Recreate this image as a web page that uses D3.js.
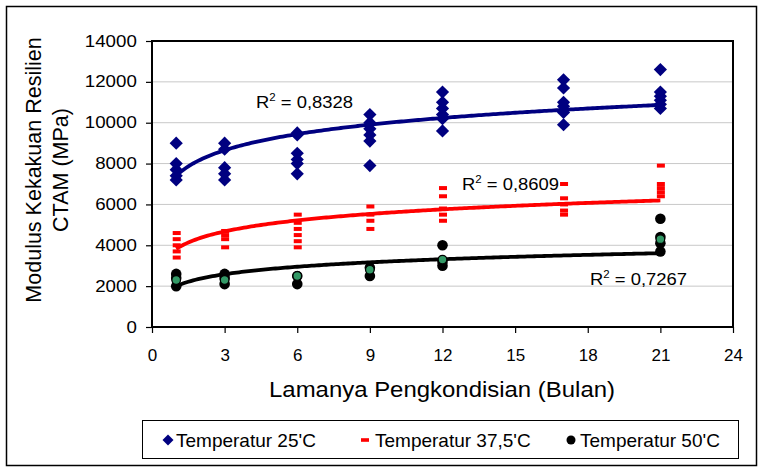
<!DOCTYPE html>
<html>
<head>
<meta charset="utf-8">
<script src="https://cdn.jsdelivr.net/npm/d3@7"></script>
<style>
  body { margin: 0; background: #fff; }
  svg { font-family: "Liberation Sans", Arial, sans-serif; }
</style>
</head>
<body>
<div id="chart-container"></div>
<script>
// months of conditioning (x values)
const months = [1, 3, 6, 9, 12, 17, 21];

// stiffness modulus readings (MPa), one list per month
const temp25 = [
    [9000, 8000, 7700, 7400, 7200],
    [9000, 8700, 7800, 7500, 7200],
    [9500, 9400, 8500, 8200, 8000, 7500],
    [10400, 10000, 9700, 9400, 9100, 7900],
    [11500, 11000, 10700, 10400, 10200, 9600],
    [12100, 11700, 11000, 10800, 10500, 9900],
    [12600, 11500, 11300, 11100, 10900, 10700]
];
const temp37 = [
    [4600, 4300, 4000, 3700, 3400],
    [4700, 4500, 4300, 3900],
    [5500, 5100, 4800, 4500, 4200, 3900],
    [5900, 5500, 5200, 4800],
    [6800, 6400, 5800, 5500, 5200],
    [7000, 6300, 6000, 5700, 5500],
    [7900, 7000, 6800, 6600, 6400]
];
const temp50 = [
    [2600, 2400, 2000],
    [2600, 2400, 2100],
    [2500, 2100],
    [2900, 2500],
    [4000, 3200, 3000],
    [],
    [5300, 4400, 4100, 3700]
];
// green points (no legend entry)
const green50 = [2300, 2300, 2500, 2800, 3300, null, 4300];

const seriesNames = ["Temperatur 25'C", "Temperatur 37,5'C", "Temperatur 50'C"];

// logarithmic trendlines y = a ln(x) + b
const trendA = [1140, 780, 530];
const trendB = [7400, 3820, 2000];
const r2Values = ["0,8328", "0,8609", "0,7267"];

const xTickValues = [0, 3, 6, 9, 12, 15, 18, 21, 24];
const yTickValues = [0, 2000, 4000, 6000, 8000, 10000, 12000, 14000];

const W = 763, H = 468;
const plot = { left: 152, right: 733, top: 41, bottom: 327 };

const svg = d3.select("#chart-container")
    .append("svg")
    .attr("width", W)
    .attr("height", H);

svg.append("rect")
    .attr("width", W)
    .attr("height", H)
    .attr("fill", "#fff");

// outer chart border
svg.append("rect")
    .attr("x", 6.5)
    .attr("y", 6.5)
    .attr("width", 750)
    .attr("height", 459)
    .attr("fill", "none")
    .attr("stroke", "#000")
    .attr("stroke-width", 1.5);

const x = d3.scaleLinear().domain([0, 24]).range([plot.left, plot.right]);
const y = d3.scaleLinear().domain([0, 14000]).range([plot.bottom, plot.top]);

// horizontal gridlines
svg.selectAll(".grid")
    .data(yTickValues.slice(1, -1))
    .join("line")
    .attr("x1", plot.left)
    .attr("x2", plot.right)
    .attr("y1", d => y(d))
    .attr("y2", d => y(d))
    .attr("stroke", "#c8c8c8")
    .attr("stroke-width", 1);

// y axis
svg.append("g")
    .attr("transform", `translate(${plot.left},0)`)
    .call(d3.axisLeft(y).tickValues(yTickValues).tickFormat(d3.format("d"))
        .tickSize(6).tickPadding(7))
    .call(g => g.select(".domain").remove())
    .call(g => g.selectAll("line").attr("stroke", "#000").attr("stroke-width", 1.2))
    .call(g => g.selectAll("text")
        .attr("fill", "#000")
        .style("font-size", "16px")
        .style("font-family", "'Liberation Sans', Arial, sans-serif")
        .attr("transform", "scale(1.17,1)"));

// x axis
svg.append("g")
    .attr("transform", `translate(0,${plot.bottom})`)
    .call(d3.axisBottom(x).tickValues(xTickValues).tickSize(6).tickPadding(16))
    .call(g => g.select(".domain").remove())
    .call(g => g.selectAll("line").attr("stroke", "#000").attr("stroke-width", 1.2))
    .call(g => g.selectAll("text")
        .attr("fill", "#000")
        .style("font-size", "17px")
        .style("font-family", "'Liberation Sans', Arial, sans-serif"));

// flatten readings into points
const toPoints = arr => months.flatMap((m, i) => arr[i].map(v => ({ x: m, y: v })));
const pts25 = toPoints(temp25);
const pts37 = toPoints(temp37);
const pts50 = toPoints(temp50);
const ptsGreen = months.map((m, i) => ({ x: m, y: green50[i] })).filter(d => d.y !== null);

const diamond = s => `M0,${-s}L${s},0L0,${s}L${-s},0Z`;

// blue diamonds
svg.append("g").selectAll("path")
    .data(pts25)
    .join("path")
    .attr("transform", d => `translate(${x(d.x)},${y(d.y)})`)
    .attr("d", diamond(6.6))
    .attr("fill", "#000080");

// red dashes
svg.append("g").selectAll("rect")
    .data(pts37)
    .join("rect")
    .attr("x", d => x(d.x) - 3.5)
    .attr("y", d => y(d.y) - 2)
    .attr("width", 8)
    .attr("height", 4)
    .attr("fill", "#ff0000");

// black circles
svg.append("g").selectAll("circle")
    .data(pts50)
    .join("circle")
    .attr("cx", d => x(d.x))
    .attr("cy", d => y(d.y))
    .attr("r", 5.3)
    .attr("fill", "#000");

// trendlines
const trendColors = ["#000080", "#ff0000", "#000"];
const line = d3.line().x(d => x(d.x)).y(d => y(d.y));
trendA.forEach((a, i) => {
    const pts = d3.range(1, 21.001, 0.1).map(t => ({ x: t, y: a * Math.log(t) + trendB[i] }));
    svg.append("path")
        .datum(pts)
        .attr("fill", "none")
        .attr("stroke", trendColors[i])
        .attr("stroke-width", 3.8)
        .attr("d", line);
});

// green points on top
svg.append("g").selectAll("circle")
    .data(ptsGreen)
    .join("circle")
    .attr("cx", d => x(d.x))
    .attr("cy", d => y(d.y))
    .attr("r", 4.3)
    .attr("fill", "#339966")
    .attr("stroke", "#000")
    .attr("stroke-width", 1.2);

// plot border
svg.append("rect")
    .attr("x", plot.left)
    .attr("y", plot.top)
    .attr("width", plot.right - plot.left)
    .attr("height", plot.bottom - plot.top)
    .attr("fill", "none")
    .attr("stroke", "#000")
    .attr("stroke-width", 2);

// R² labels
const r2Pos = [[256, 108], [462, 190], [590, 285]];
r2Values.forEach((v, i) => {
    const t = svg.append("text")
        .attr("x", r2Pos[i][0])
        .attr("y", r2Pos[i][1])
        .attr("textLength", 97)
        .attr("lengthAdjust", "spacingAndGlyphs")
        .style("font-size", "16px")
        .attr("fill", "#000");
    t.append("tspan").text("R");
    t.append("tspan").attr("dy", -7).style("font-size", "10px").text("2");
    t.append("tspan").attr("dy", 7).text(` = ${v}`);
});

// y axis title
const yTitle = ["Modulus Kekakuan Resilien", "CTAM (MPa)"];
yTitle.forEach((s, i) => {
    svg.append("text")
        .attr("transform", `translate(${41 + i * 27},170) rotate(-90)`)
        .attr("text-anchor", "middle")
        .style("font-size", "21.5px")
        .attr("fill", "#000")
        .text(s);
});

// x axis title
svg.append("text")
    .attr("x", 269)
    .attr("y", 397)
    .attr("textLength", 346)
    .attr("lengthAdjust", "spacingAndGlyphs")
    .style("font-size", "22px")
    .attr("fill", "#000")
    .text("Lamanya Pengkondisian (Bulan)");

// legend
svg.append("rect")
    .attr("x", 142.5)
    .attr("y", 420.5)
    .attr("width", 596)
    .attr("height", 38)
    .attr("fill", "#fff")
    .attr("stroke", "#000")
    .attr("stroke-width", 1);

const legY = 440;
const legMarkX = [168, 365, 571];
const legTextX = [176, 375, 580];

svg.append("path")
    .attr("transform", `translate(${legMarkX[0]},${legY})`)
    .attr("d", diamond(5.5))
    .attr("fill", "#000080");
svg.append("rect")
    .attr("x", legMarkX[1] - 4)
    .attr("y", legY - 1.8)
    .attr("width", 8)
    .attr("height", 3.6)
    .attr("fill", "#ff0000");
svg.append("circle")
    .attr("cx", legMarkX[2])
    .attr("cy", legY)
    .attr("r", 4.5)
    .attr("fill", "#000");

seriesNames.forEach((s, i) => {
    svg.append("text")
        .attr("x", legTextX[i])
        .attr("y", legY + 7)
        .style("font-size", "19px")
        .attr("fill", "#000")
        .text(s);
});
</script>
</body>
</html>
